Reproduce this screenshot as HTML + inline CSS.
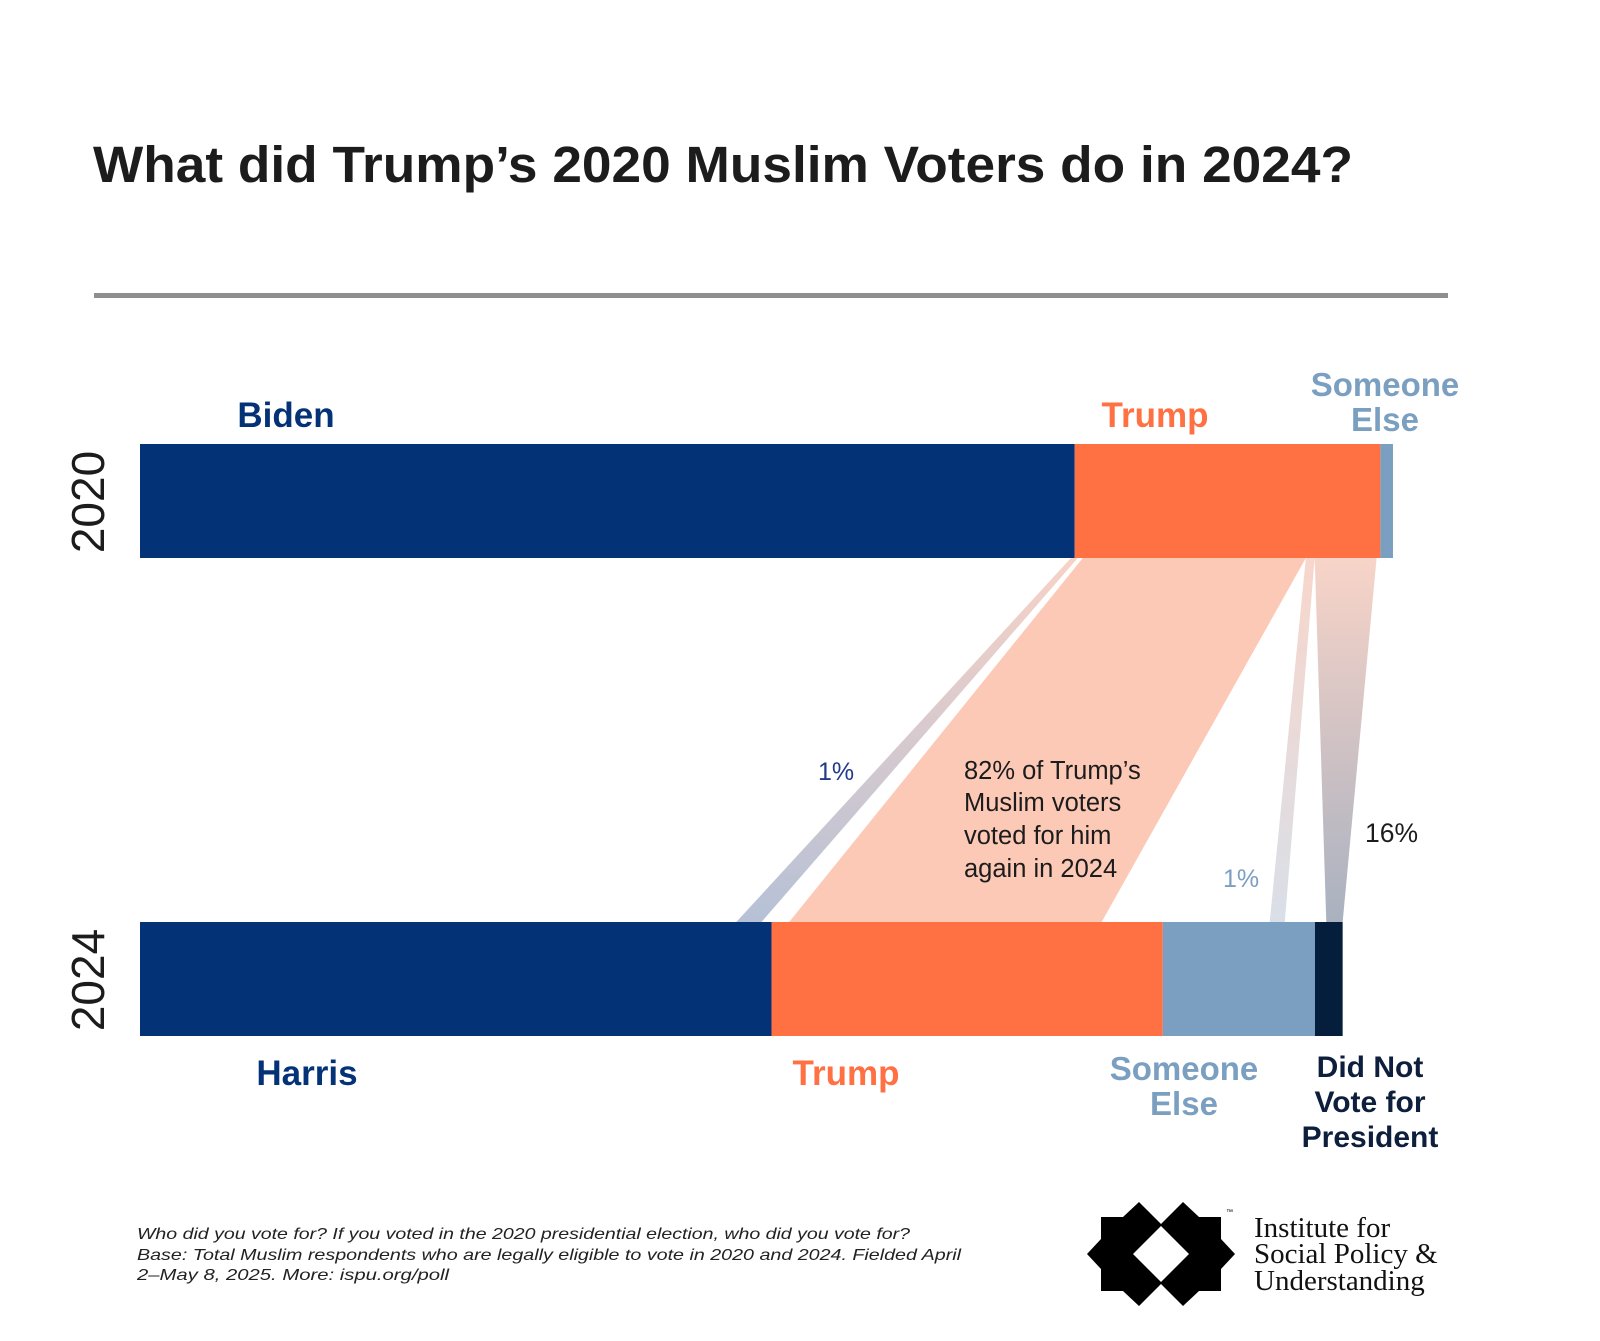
<!DOCTYPE html>
<html><head><meta charset="utf-8"><style>
html,body{margin:0;padding:0;background:#fff;width:1600px;height:1341px;overflow:hidden}
svg{display:block;font-family:"Liberation Sans",sans-serif}
</style></head><body>
<svg id="chart" width="1600" height="1341" viewBox="0 0 1600 1341">
<defs>
<linearGradient id="gHarris" x1="0" y1="0" x2="0" y2="1"><stop offset="0" stop-color="#f7d2c6"/><stop offset="1" stop-color="#b6c1d6"/></linearGradient>
<linearGradient id="gElse" x1="0" y1="0" x2="0" y2="1"><stop offset="0" stop-color="#f8d6cb"/><stop offset="1" stop-color="#d9dfe8"/></linearGradient>
<linearGradient id="gDnv" x1="0" y1="0" x2="0" y2="1"><stop offset="0" stop-color="#f8d4c8"/><stop offset="1" stop-color="#a9b1c0"/></linearGradient>
</defs>
<text x="93" y="182" font-size="51" font-weight="bold" fill="#1c1c1c" textLength="1260" lengthAdjust="spacingAndGlyphs">What did Trump’s 2020 Muslim Voters do in 2024?</text>
<rect x="94" y="293" width="1354" height="5" fill="#8f8f8f"/>
<g id="flows"></g>
<g id="bars"></g>
<g id="labels"></g>
<text transform="translate(104,502) rotate(-90)" text-anchor="middle" font-size="46" fill="#1c1c1c">2020</text>
<text transform="translate(104,980) rotate(-90)" text-anchor="middle" font-size="46" fill="#1c1c1c">2024</text>
<text x="818" y="780" font-size="25" fill="#233a8a">1%</text>
<g font-size="25.5" fill="#1c1c1c">
<text x="964" y="779">82% of Trump’s</text>
<text x="964" y="811">Muslim voters</text>
<text x="964" y="844">voted for him</text>
<text x="964" y="877">again in 2024</text>
</g>
<text x="1223" y="887" font-size="25" fill="#7a9fc0">1%</text>
<text x="1365" y="842" font-size="26.5" fill="#1c1c1c">16%</text>
<g font-size="16" font-style="italic" fill="#222">
<text x="137" y="1239" textLength="773" lengthAdjust="spacingAndGlyphs">Who did you vote for? If you voted in the 2020 presidential election, who did you vote for?</text>
<text x="137" y="1260" textLength="824" lengthAdjust="spacingAndGlyphs">Base: Total Muslim respondents who are legally eligible to vote in 2020 and 2024. Fielded April</text>
<text x="137" y="1280" textLength="312" lengthAdjust="spacingAndGlyphs">2–May 8, 2025. More: ispu.org/poll</text>
</g>
<g>
<polygon fill="#000" points="1139,1202 1161,1224 1183,1202 1199,1217 1221,1217 1221,1239 1235,1254 1221,1269 1221,1291 1199,1291 1183,1306 1161,1284 1139,1306 1123,1291 1101,1291 1101,1269 1087,1254 1101,1239 1101,1217 1123,1217"/>
<polygon fill="#fff" points="1161,1226 1189,1254 1161,1282 1133,1254"/>
<text x="1226" y="1214" font-size="7" fill="#000">™</text>
<g font-family="Liberation Serif, serif" font-size="29" fill="#111">
<text x="1254" y="1237">Institute for</text>
<text x="1254" y="1263">Social Policy &amp;</text>
<text x="1254" y="1290">Understanding</text>
</g>
</g>
</svg>
<script>
const years2020 = ["Biden","Trump","Someone Else"];
const values2020 = [74.3, 24.3, 1];
const years2024 = ["Harris","Trump","Someone Else","Did Not Vote for President"];
const values2024 = [50.2, 31.1, 12.1, 2.2];
// flows from 2020 Trump: share of Trump voters
const flowTargets = ["Harris","Trump","Someone Else","Did Not Vote for President"];
const flowShares = [1, 82, 1, 16];

const NS="http://www.w3.org/2000/svg";
const X0=140, UNIT=12.58;
const x=v=>X0+v*UNIT;
const TOP1=444, BOT1=558, TOP2=922, BOT2=1036;
const cols2020=["#033277","#ff7043","#7a9fc0"];
const cols2024=["#033277","#ff7043","#7a9fc0","#041e3c"];
function el(t,a){const e=document.createElementNS(NS,t);for(const k in a)e.setAttribute(k,a[k]);return e;}
const bars=document.getElementById('bars');
let c=0;const seg20=[];
values2020.forEach((v,i)=>{const r=el('rect',{x:x(c),y:TOP1,width:v*UNIT,height:BOT1-TOP1,fill:cols2020[i]});


bars.appendChild(r);seg20.push([c,c+v]);c+=v;});
c=0;const seg24=[];
values2024.forEach((v,i)=>{const r=el('rect',{x:x(c),y:TOP2,width:v*UNIT,height:BOT2-TOP2,fill:cols2024[i]});


bars.appendChild(r);seg24.push([c,c+v]);c+=v;});
// flows
const flows=document.getElementById('flows');
const tr=seg20[1];const trW=tr[1]-tr[0];
const fills=["url(#gHarris)","#fdc9b7","url(#gElse)","url(#gDnv)"];
let acc=tr[0];
flowShares.forEach((s,i)=>{
  let w=trW*s/100;
  if(i===1) w*=0.91;
  let t0=acc,t1=acc+w;
  if(i===2){t1=t0+0.7;}
  if(i===3){t1=tr[1]-0.3;}
  acc=t1;
  let a0=t0,a1=t1;
  if(i===0){a0=t0-0.3;}
  if(i===1){a0=t0+0.4;}
  const seg=seg24[i];
  let b0,b1;
  if(i===0){b1=seg[1]-0.8;b0=b1-2;}
  else if(i===1){b0=seg[0]+1.4;b1=b0+w*1.37;}
  else if(i===2){b0=seg[1]-3.6;b1=b0+1.2;}
  else {b1=seg[1];b0=seg[0]+0.9;}
  const p=el('polygon',{points:`${x(a0)},${BOT1} ${x(a1)},${BOT1} ${x(b1)},${TOP2} ${x(b0)},${TOP2}`,fill:fills[i]});
  
  
  flows.appendChild(p);
});
// category labels
const labels=document.getElementById('labels');
function lab(lines,cx,y0,fill,name,fs){
  const g=el('text',{x:cx,y:y0,'text-anchor':'middle','font-size':fs,'font-weight':'bold',fill:fill});
  
  
  lines.forEach((l,i)=>{const t=el('tspan',{x:cx,y:y0+i*35});t.textContent=l;g.appendChild(t);});
  labels.appendChild(g);
}
lab(["Biden"],286,427,"#033277","label-2020-biden",35);
lab(["Trump"],1155,427,"#ff7043","label-2020-trump",35);
lab(["Someone","Else"],1385,396,"#7a9fc0","label-2020-someone-else",33);
lab(["Harris"],307,1085,"#033277","label-2024-harris",35);
lab(["Trump"],846,1085,"#ff7043","label-2024-trump",35);
lab(["Someone","Else"],1184,1080,"#7a9fc0","label-2024-someone-else",33);
lab(["Did Not","Vote for","President"],1370,1077,"#0d1f3c","label-2024-did-not-vote",30);
</script>
</body></html>
